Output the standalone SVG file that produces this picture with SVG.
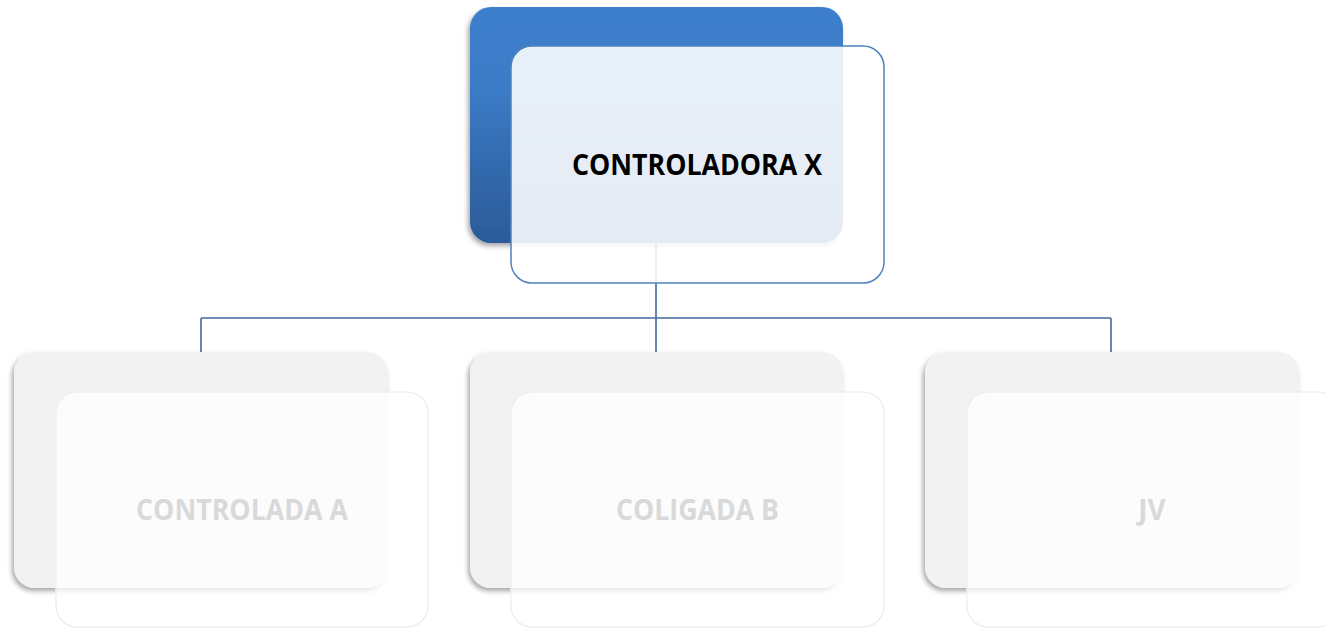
<svg xmlns="http://www.w3.org/2000/svg" width="1326" height="628" viewBox="0 0 1326 628">
<defs>
<linearGradient id="blueGrad" x1="0" y1="0" x2="0" y2="1">
<stop offset="0" stop-color="#3D7FCD"/>
<stop offset="0.35" stop-color="#3B7BC6"/>
<stop offset="1" stop-color="#2B5A98"/>
</linearGradient>
<filter id="shadow" x="-10%" y="-10%" width="120%" height="125%">
<feDropShadow dx="-2" dy="3" stdDeviation="2.5" flood-color="#000" flood-opacity="0.35"/>
</filter>
<style>
.back-blue{fill:url(#blueGrad);filter:url(#shadow);}
.back-grey{fill:#F2F2F2;filter:url(#shadow);}
.front-blue{fill:#FFFFFF;fill-opacity:0.88;stroke:#4F81BD;stroke-width:1.5;}
.front-grey{fill:#FFFFFF;fill-opacity:0.75;stroke:#EFEFEF;stroke-width:1.5;}
.conn{fill:none;stroke:#41699E;stroke-width:1.6;}
.t{font-family:"Open Sans","Liberation Sans",sans-serif;font-weight:bold;font-size:28px;text-anchor:middle;}
.t-main{fill:#000000;}
.t-sub{fill:#D9D9D9;}
</style>
</defs>
<rect width="1326" height="628" fill="#FFFFFF"/>
<g id="connectors">
<path class="conn" d="M656,243 V318 M201,318 H1111 M201,318 V352 M656,318 V352 M1111,318 V352"/>
</g>
<g id="node-controladora-x">
<rect class="back-blue" x="470" y="7" width="373" height="236" rx="21"/>
<rect class="front-blue" x="511" y="46" width="373" height="237" rx="21"/>
<text class="t t-main" x="697" y="175" textLength="250" lengthAdjust="spacingAndGlyphs">CONTROLADORA X</text>
</g>
<g id="node-controlada-a">
<rect class="back-grey" x="14" y="352" width="374" height="236" rx="21"/>
<rect class="front-grey" x="56" y="392" width="372" height="235" rx="21"/>
<text class="t t-sub" x="242" y="520" textLength="212" lengthAdjust="spacingAndGlyphs">CONTROLADA A</text>
</g>
<g id="node-coligada-b">
<rect class="back-grey" x="470" y="352" width="373" height="236" rx="21"/>
<rect class="front-grey" x="511" y="392" width="373" height="235" rx="21"/>
<text class="t t-sub" x="697.5" y="520" textLength="163" lengthAdjust="spacingAndGlyphs">COLIGADA B</text>
</g>
<g id="node-jv">
<rect class="back-grey" x="925" y="352" width="374" height="236" rx="21"/>
<rect class="front-grey" x="967" y="392" width="372" height="235" rx="21"/>
<text class="t t-sub" x="1152" y="520">JV</text>
</g>
</svg>
